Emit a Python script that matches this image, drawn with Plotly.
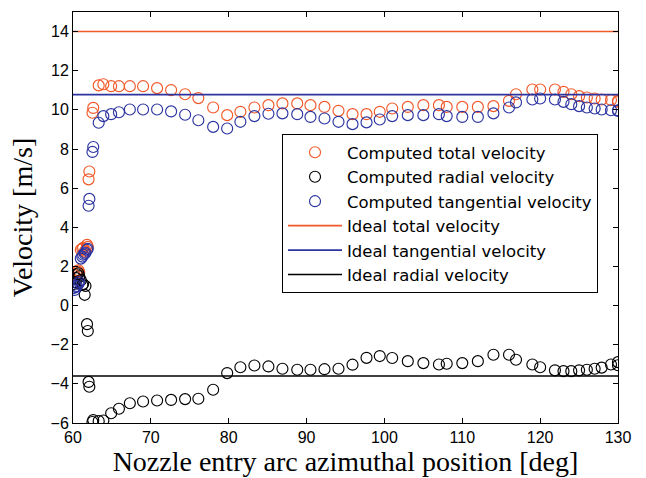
import plotly.graph_objects as go

theta = [60.1, 60.2, 60.4, 60.5, 60.7, 60.8, 61.0, 61.2, 61.3, 61.5, 61.6, 61.8, 61.9,
         62.0, 62.1, 62.5, 62.6, 63.3, 63.9, 64.9, 65.9, 67.3, 69.0, 70.8, 72.6, 74.4,
         76.1, 78.0, 79.8, 81.5, 83.3, 85.1, 86.9, 88.8, 90.5, 92.3, 94.1, 95.9, 97.7,
         99.4, 101.0, 103.0, 105.0, 107.0, 108.0, 110.0, 112.0, 114.0, 116.0, 116.9,
         119.0, 120.0, 121.9, 123.0, 124.0, 125.0, 126.0, 127.0, 127.9, 129.1, 130.0, 130.0]

v_total = [1.55, 1.6, 1.7, 1.75, 1.8, 1.7, 2.85, 2.9, 2.95, 2.75, 2.8, 3.1, 3.0,
           6.45, 6.85, 9.85, 10.1, 11.25, 11.31, 11.21, 11.21, 11.21, 11.21, 11.11, 11.01, 10.80,
           10.60, 10.12, 9.73, 9.90, 10.12, 10.24, 10.33, 10.33, 10.24, 10.15, 9.95, 9.78, 9.78,
           9.90, 10.07, 10.15, 10.24, 10.24, 10.15, 10.15, 10.15, 10.19, 10.46, 10.80,
           11.04, 11.04, 11.04, 10.92, 10.80, 10.70, 10.63, 10.58, 10.53, 10.50, 10.46, 10.40]

v_radial = [1.1, 1.2, 1.4, 1.6, 1.65, 1.5, 1.3, 1.05, 1.1, 0.55, 1.0, -0.95, -1.3,
            -3.9, -4.15, -5.95, -5.85, -5.9, -5.87, -5.50, -5.27, -4.99, -4.90, -4.85, -4.82, -4.78,
            -4.76, -4.30, -3.45, -3.15, -3.06, -3.11, -3.23, -3.28, -3.28, -3.25, -3.23, -3.02, -2.67,
            -2.58, -2.68, -2.84, -2.94, -3.01, -2.97, -2.94, -2.84, -2.51, -2.51, -2.77,
            -3.01, -3.15, -3.31, -3.35, -3.35, -3.31, -3.28, -3.23, -3.17, -3.01, -2.89, -3.05]

v_tangential = [0.9, 0.8, 0.95, 1.0, 1.1, 1.2, 2.4, 2.5, 2.6, 2.65, 2.7, 2.85, 2.9,
                5.1, 5.45, 7.85, 8.1, 9.34, 9.68, 9.78, 9.88, 10.02, 10.02, 10.02, 9.92, 9.75,
                9.47, 9.13, 9.05, 9.39, 9.68, 9.80, 9.82, 9.78, 9.64, 9.56, 9.39, 9.27, 9.36,
                9.51, 9.68, 9.73, 9.73, 9.78, 9.68, 9.64, 9.64, 9.82, 10.12, 10.38,
                10.53, 10.58, 10.53, 10.41, 10.29, 10.19, 10.12, 10.07, 10.02, 9.98, 9.98, 9.95]

x_range = [60, 130]
ideal_total = 14.0
ideal_tangential = 10.78
ideal_radial = -3.6

ORANGE = "rgb(242,88,40)"
BLUE = "rgb(44,52,160)"
BLACK = "rgb(0,0,0)"

fig = go.Figure()

def mk(name, y, color):
    fig.add_trace(go.Scatter(
        x=theta, y=y, mode="markers", name=name,
        marker=dict(symbol="circle-open", size=11, color=color, line=dict(width=1.15, color=color)),
    ))

mk("Computed total velocity", v_total, ORANGE)
mk("Computed radial velocity", v_radial, BLACK)
mk("Computed tangential velocity", v_tangential, BLUE)

def ln(name, val, color):
    fig.add_trace(go.Scatter(
        x=x_range, y=[val, val], mode="lines", name=name,
        line=dict(color=color, width=1.6),
    ))

ln("Ideal total velocity", ideal_total, ORANGE)
ln("Ideal tangential velocity", ideal_tangential, BLUE)
ln("Ideal radial velocity", ideal_radial, BLACK)

axis_common = dict(
    showgrid=False, zeroline=False, showline=True, linecolor="black", linewidth=1,
    mirror="ticks", ticks="inside", ticklen=5, tickcolor="black",
    tickfont=dict(family="Liberation Sans, Arial", size=16, color="black"),
)

title_font = dict(family="Liberation Serif, Times New Roman", size=28, color="black")

fig.update_layout(
    width=646, height=478,
    margin=dict(l=73, r=28, t=12, b=55),
    paper_bgcolor="white", plot_bgcolor="white",
    xaxis=dict(range=[60, 130], tickvals=[60, 70, 80, 90, 100, 110, 120, 130],
               title=dict(text="Nozzle entry arc azimuthal position [deg]",
                          font=title_font, standoff=0),
               **axis_common),
    yaxis=dict(range=[-6, 15], tickvals=list(range(-6, 15, 2)),
               title=dict(text="Velocity [m/s]", font=title_font, standoff=9),
               **axis_common),
    legend=dict(x=0.3835, y=0.703, xanchor="left", yanchor="top",
                bgcolor="white", bordercolor="black", borderwidth=1,
                font=dict(family="DejaVu Sans, Liberation Sans", size=16.5, color="black"),
                itemwidth=54, tracegroupgap=0),
    showlegend=True,
)

fig.write_html("out.html")
